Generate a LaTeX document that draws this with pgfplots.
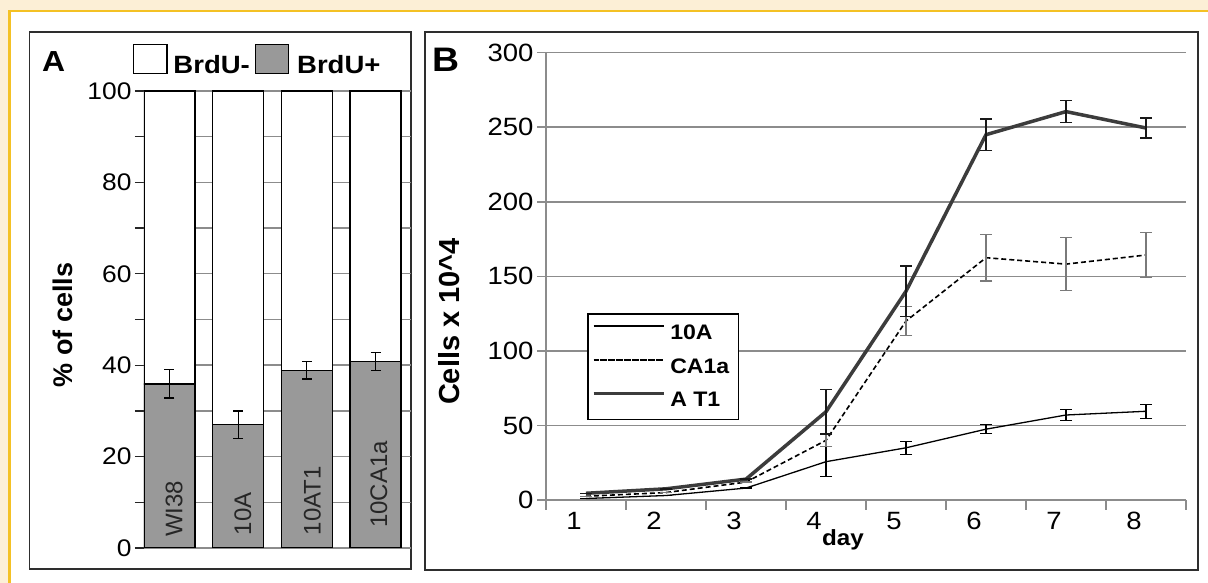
\documentclass[border=0pt]{standalone}
\usepackage{fontspec}
\setmainfont{Liberation Sans}[FakeStretch=1.1]
\newfontfamily\rotfont{Liberation Sans}
\usepackage{pgfplots}
\usepackage{pgfplotstable}
\pgfplotsset{compat=1.18}

\definecolor{cream}{HTML}{FCEFD6}
\definecolor{gold}{HTML}{F4C124}
\definecolor{frameCol}{HTML}{2E2E2E}
\definecolor{barGray}{HTML}{999999}
\definecolor{gridGray}{HTML}{8C8C8C}
\definecolor{lineDark}{HTML}{3C3C3C}
\definecolor{errGray}{HTML}{7A7A7A}

\newcommand{\tickA}{\fontsize{24}{28}\selectfont}
\newcommand{\tickB}{\fontsize{25}{29}\selectfont}
\newcommand{\barlab}{\rotfont\fontsize{24}{28}\selectfont}

% panel A: % of cells, BrdU+ (with error) and BrdU-
\pgfplotstableread{
x pos err neg
0 35.9 3.1 64.1
1 27.0 3.0 73.0
2 38.9 1.9 61.1
3 40.8 2.0 59.2
}\brdu

\pgfplotsset{
    panelA/.style={
        at={(144pt,35pt)}, anchor=south west,
        scale only axis, width=267pt, height=457pt,
        xmin=-0.371, xmax=3.517, ymin=0, ymax=100,
    },
}

\begin{document}
\begin{tikzpicture}[x=1pt,y=1pt]
\fill[cream] (0,0) rectangle (1208,583);
\fill[white] (11,0) rectangle (1208,571);
\fill[gold] (8,0) rectangle (11,573);
\fill[gold] (8,570.5) rectangle (1208,573);
\draw[frameCol, line width=1.8pt] (29.5,550.7) rectangle (410.7,13.7);
\draw[frameCol, line width=1.8pt] (425,550.7) rectangle (1197.7,13);

\begin{axis}[
    panelA,
    ybar stacked, bar width=51pt,
    hide x axis,
    axis y line*=left,
    y axis line style={draw=none},
    ytick={0,20,40,60,80,100},
    minor ytick={10,30,50,70,90},
    ymajorgrids, yminorgrids,
    major grid style={gridGray, line width=1.4pt},
    minor grid style={gridGray, line width=1.4pt},
    tick align=outside,
    major tick length=9pt, minor tick length=9pt,
    tick style={black!85, line width=1.3pt},
    yticklabel style={font=\tickA},
    /pgf/number format/assume math mode=true,
    ylabel={\% of cells},
    ylabel style={at={(axis description cs:-0.305,0.488)}, anchor=center,
        font=\rotfont\bfseries\fontsize{27}{32}\selectfont},
    legend style={at={(-0.0412,1.062)}, anchor=west, draw=none, fill=none,
        inner sep=0pt, legend columns=2,
        font=\bfseries\fontsize{25}{30}\selectfont,
        nodes={inner xsep=6pt, inner ysep=0pt},
        /tikz/every even column/.append style={column sep=-1pt}},
    reverse legend,
]
\addplot[fill=barGray, draw=black, line width=1.3pt,
    legend image code/.code={\draw[fill=barGray, draw=black, line width=1.3pt] (0pt,-5.2pt) rectangle (33pt,23.8pt);}]
    table[x=x, y=pos] \brdu;
\addplot[fill=white, draw=black, line width=1.3pt,
    legend image code/.code={\draw[fill=white, draw=black, line width=1.3pt] (0pt,-5.2pt) rectangle (33pt,23.8pt);}]
    table[x=x, y=neg] \brdu;
\legend{\raisebox{7pt}{\hspace{2pt}BrdU+}, \raisebox{7pt}{BrdU-}}
\end{axis}

% error bars of BrdU+ and bar names, drawn over the stacked bars
\begin{axis}[panelA, hide axis]
\addplot[draw=none, mark=none,
    error bars/y dir=both, error bars/y explicit,
    error bars/error bar style={draw=black, line width=1.3pt},
    error bars/error mark options={rotate=90, mark size=5pt, draw=black, line width=1.3pt}]
    table[x=x, y=pos, y error=err] \brdu;
\node[rotate=90, anchor=west, inner sep=0pt, text=black!85, font=\barlab] at (axis cs:0.066,2.4) {WI38};
\node[rotate=90, anchor=west, inner sep=0pt, text=black!85, font=\barlab] at (axis cs:1.07,2.8) {10A};
\node[rotate=90, anchor=west, inner sep=0pt, text=black!85, font=\barlab] at (axis cs:2.08,2.8) {10AT1};
\node[rotate=90, anchor=west, inner sep=0pt, text=black!85, font=\barlab] at (axis cs:3.05,4.4) {10CA1a};
\end{axis}

% panel B: growth curves
\begin{axis}[
    at={(546pt,83pt)}, anchor=south west,
    scale only axis, width=640pt, height=447.3pt,
    xmin=0.5, xmax=8.5, ymin=0, ymax=300,
    axis x line*=bottom, axis y line*=left,
    axis line style={gridGray, line width=1.5pt, -},
    xtick={1,...,8}, minor xtick={0.5,1.5,...,8.5},
    ytick={0,50,...,300},
    ymajorgrids, major grid style={gridGray, line width=1.5pt},
    tick align=outside, major tick length=9pt, minor tick length=10pt,
    tick style={gridGray, line width=1.5pt},
    major x tick style={draw=none},
    xticklabel style={font=\tickB, xshift=-12pt},
    yticklabel style={font=\tickB},
    /pgf/number format/assume math mode=true,
    xlabel={day},
    xlabel style={at={(axis description cs:0.464,0)}, anchor=base, yshift=-46pt,
        font=\bfseries\fontsize{22}{26}\selectfont},
    ylabel={Cells x 10\textasciicircum 4},
    ylabel style={at={(axis description cs:-0.1516,0.399)}, anchor=center,
        font=\rotfont\bfseries\fontsize{29}{34}\selectfont},
    legend style={at={(0.0641,0.418)}, anchor=north west, draw=black, line width=1.5pt,
        fill=white, font=\bfseries\fontsize{21}{25}\selectfont,
        inner xsep=4pt, inner ysep=9pt, row sep=13.7pt,
        nodes={inner xsep=5pt, inner ysep=2pt}},
    legend cell align=left,
    legend image code/.code={\path (0pt,7pt) -- (70pt,7pt); \draw[#1] (6pt,7pt) -- (67pt,7pt);},
]
\addplot[black, line width=1.3pt,
    error bars/y dir=both, error bars/y explicit,
    error bars/error bar style={black, line width=1.2pt, solid},
    error bars/error mark options={rotate=90, mark size=6pt, black, line width=1.2pt, solid}]
    coordinates {(1,1) +- (0,0) (2,3) +- (0,0) (3,8) +- (0,0) (4,25.7) +- (0,10)
                 (5,35) +- (0,4.5) (6,47.5) +- (0,3) (7,57) +- (0,3.8) (8,59.5) +- (0,4.7)};
\addplot[black, line width=1.6pt, dash pattern=on 5pt off 3pt,
    error bars/y dir=both, error bars/y explicit,
    error bars/error bar style={errGray, line width=1.3pt, solid},
    error bars/error mark options={rotate=90, mark size=6pt, errGray, line width=1.3pt, solid}]
    coordinates {(1,2.5) +- (0,0) (2,5) +- (0,0) (3,12) +- (0,0) (4,40) +- (0,4)
                 (5,120) +- (0,9.6) (6,162.5) +- (0,15.6) (7,158.2) +- (0,17.7) (8,164.3) +- (0,15)};
\addplot[lineDark, line width=3.5pt,
    error bars/y dir=both, error bars/y explicit,
    error bars/error bar style={black!90, line width=1.4pt},
    error bars/error mark options={rotate=90, mark size=6pt, black!90, line width=1.4pt}]
    coordinates {(1,4.5) +- (0,0) (2,7.5) +- (0,0) (3,14) +- (0,0) (4,59.2) +- (0,15)
                 (5,140) +- (0,17) (6,245) +- (0,10.5) (7,260.5) +- (0,7.3) (8,249.5) +- (0,6.8)};
\legend{10A, CA1a, A T1}
\end{axis}

\node[anchor=base west, inner sep=0pt, font=\bfseries\fontsize{29}{34}\selectfont] at (42,511.5) {A};
\node[anchor=base west, inner sep=0pt, font=\bfseries\fontsize{34}{40}\selectfont] at (432,511.3) {B};
\end{tikzpicture}
\end{document}
